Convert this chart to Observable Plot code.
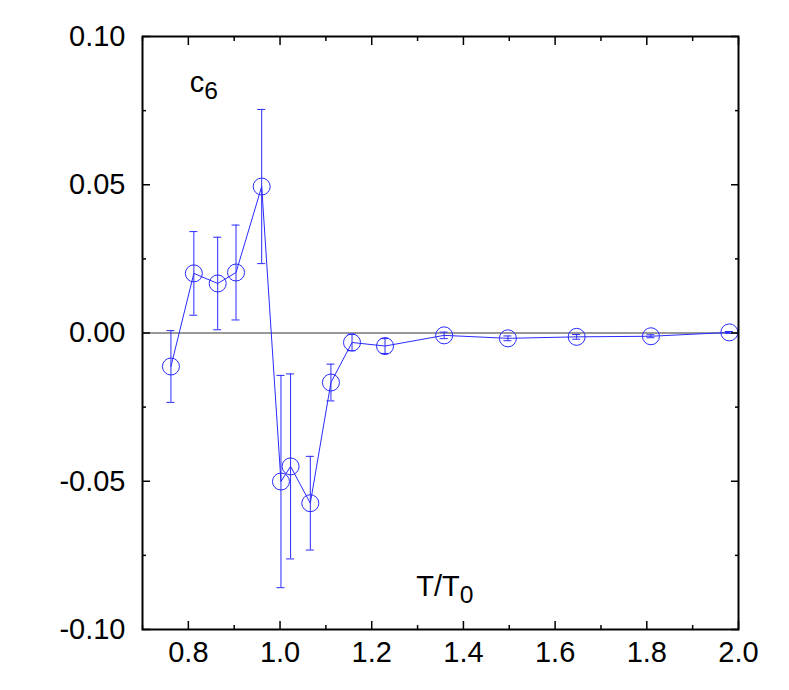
<!DOCTYPE html>
<html>
<head>
<meta charset="utf-8">
<script src="https://cdn.jsdelivr.net/npm/d3@7"></script>
<script src="https://cdn.jsdelivr.net/npm/@observablehq/plot@0.6"></script>
<style>
html,body{margin:0;padding:0;background:#fff;}
svg{display:block;}
</style>
</head>
<body>
<div id="chart"></div>
<script>
const T = [0.762, 0.812, 0.864, 0.904, 0.960, 1.002, 1.023, 1.066, 1.111, 1.157, 1.229, 1.358, 1.497, 1.647, 1.809, 1.980];
const c6 = [-0.0113, 0.0201, 0.0167, 0.0204, 0.0494, -0.0501, -0.0450, -0.0574, -0.0167, -0.0032, -0.0044, -0.0008, -0.0018, -0.0013, -0.0011, 0.0002];
const err = [0.0121, 0.0141, 0.0156, 0.0160, 0.0260, 0.0358, 0.0312, 0.0158, 0.0062, 0.0028, 0.0025, 0.0011, 0.0008, 0.0008, 0.0005, 0.0003];

const xMajor = [0.8, 1.0, 1.2, 1.4, 1.6, 1.8, 2.0];
const xMinor = [0.7, 0.9, 1.1, 1.3, 1.5, 1.7, 1.9];
const yMajor = [-0.10, -0.05, 0.00, 0.05, 0.10];
const yMinor = [-0.075, -0.025, 0.025, 0.075];

const labelText = ["c", "T/T"];
const labelSub = ["6", "0"];
const labelX = [0.803, 1.297];
const labelY = [0.0845, -0.0855];

const data = T.map((t, i) => ({T: t, c: c6[i], lo: c6[i] - err[i], hi: c6[i] + err[i]}));
const labels = labelText.map((t, i) => ({x: labelX[i], y: labelY[i], text: t, sub: labelSub[i]}));

const blue = "#2a2aff";
const font = "Liberation Sans, Arial, Helvetica, sans-serif";
const fs = 29;

const chart = Plot.plot({
  width: 789,
  height: 690,
  marginLeft: 142,
  marginRight: 51,
  marginTop: 36,
  marginBottom: 61,
  style: {fontFamily: font, fontSize: fs + "px", color: "black", background: "white"},
  x: {domain: [0.7, 2.0]},
  y: {domain: [-0.1, 0.1]},
  marks: [
    Plot.ruleY([0], {stroke: "#777", strokeWidth: 1.5}),
    Plot.line(data, {x: "T", y: "c", stroke: blue, strokeWidth: 1}),
    Plot.ruleX(data, {x: "T", y1: "lo", y2: "hi", stroke: blue, strokeWidth: 1}),
    Plot.ruleY(data, {y: "lo", x1: "T", x2: "T", insetLeft: -4, insetRight: -4, stroke: blue, strokeWidth: 1}),
    Plot.ruleY(data, {y: "hi", x1: "T", x2: "T", insetLeft: -4, insetRight: -4, stroke: blue, strokeWidth: 1}),
    Plot.dot(data, {x: "T", y: "c", r: 8.5, stroke: blue, fill: "none", strokeWidth: 1}),
    Plot.text(labels, {x: "x", y: "y", text: "text", textAnchor: "start", fontSize: fs, fill: "black"}),
    Plot.axisX({ticks: xMajor, tickSize: -8, text: null, anchor: "bottom", stroke: "black", strokeWidth: 1.5}),
    Plot.axisX({ticks: xMinor, tickSize: -4, text: null, anchor: "bottom", stroke: "black", strokeWidth: 1.5}),
    Plot.axisX({ticks: xMajor, tickSize: -8, text: null, anchor: "top", stroke: "black", strokeWidth: 1.5}),
    Plot.axisX({ticks: xMinor, tickSize: -4, text: null, anchor: "top", stroke: "black", strokeWidth: 1.5}),
    Plot.axisX({ticks: xMajor, tickSize: 0, tickPadding: 12, anchor: "bottom", tickFormat: d3.format(".1f"), label: null, fontSize: fs}),
    Plot.axisY({ticks: yMajor, tickSize: -8, text: null, anchor: "left", stroke: "black", strokeWidth: 1.5}),
    Plot.axisY({ticks: yMinor, tickSize: -4, text: null, anchor: "left", stroke: "black", strokeWidth: 1.5}),
    Plot.axisY({ticks: yMajor, tickSize: -8, text: null, anchor: "right", stroke: "black", strokeWidth: 1.5}),
    Plot.axisY({ticks: yMinor, tickSize: -4, text: null, anchor: "right", stroke: "black", strokeWidth: 1.5}),
    Plot.axisY({ticks: yMajor, tickSize: 0, tickPadding: 17, anchor: "left", tickFormat: d => d3.format(".2f")(d).replace("−", "-"), label: null, fontSize: fs}),
    Plot.frame({stroke: "black", strokeWidth: 2})
  ]
});

// add subscripts as tspans to the label texts
chart.querySelectorAll("text").forEach(el => {
  const i = labelText.indexOf(el.textContent);
  if (i >= 0) {
    const ts = document.createElementNS("http://www.w3.org/2000/svg", "tspan");
    ts.setAttribute("dy", "0.28em");
    ts.setAttribute("font-size", "0.85em");
    ts.textContent = labelSub[i];
    el.appendChild(ts);
  }
});
document.getElementById("chart").appendChild(chart);
</script>
</body>
</html>
